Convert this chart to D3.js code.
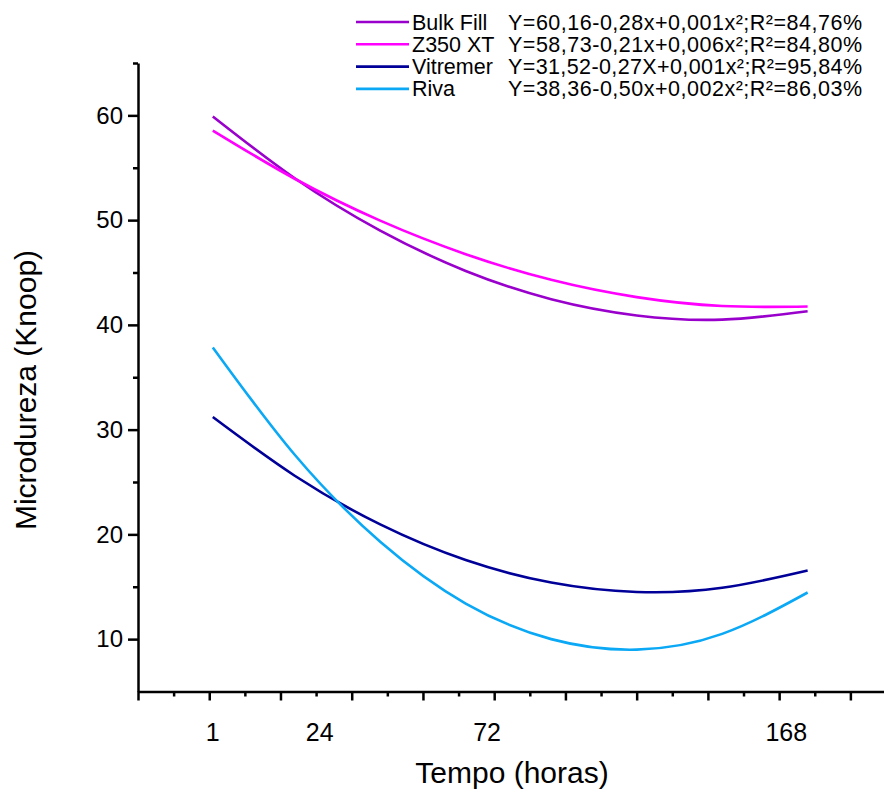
<!DOCTYPE html>
<html>
<head>
<meta charset="utf-8">
<script src="https://cdn.jsdelivr.net/npm/d3@7"></script>
<style>
  body { margin: 0; background: #fff; }
  text { font-family: "Liberation Sans", Arial, sans-serif; fill: #000; }
</style>
</head>
<body>
<div id="chart"></div>
<script>
const hours = [1, 24, 48, 72, 96, 120, 144, 168];

// microhardness
const bulkFill = [59.9, 54.0, 49.0, 45.15, 42.45, 40.9, 40.5, 41.3];
const z350 = [58.55, 53.95, 49.95, 46.75, 44.3, 42.65, 41.8, 41.75];
const vitremer = [31.2, 25.6, 20.95, 17.55, 15.4, 14.5, 14.9, 16.55];
const riva = [37.85, 27.6, 19.3, 13.4, 10.0, 9.0, 10.5, 14.45];

const seriesNames = ["Bulk Fill", "Z350 XT", "Vitremer", "Riva"];
const equations = [
  "Y=60,16-0,28x+0,001x²;R²=84,76%",
  "Y=58,73-0,21x+0,006x²;R²=84,80%",
  "Y=31,52-0,27X+0,001x²;R²=95,84%",
  "Y=38,36-0,50x+0,002x²;R²=86,03%"
];
const colors = ["#9a00cc", "#ff00ff", "#000099", "#0aa8f5"];

// x tick labels and where they sit on the hour axis in the original figure
const xTickLabels = ["1", "24", "72", "168"];
const xTickLabelAt = [1, 31, 78, 162];

const width = 884;
const height = 792;

const svg = d3.select("#chart")
  .append("svg")
  .attr("width", width)
  .attr("height", height);

const x = d3.scaleLinear().domain([-20, 190]).range([138, 886]);
const y = d3.scaleLinear().domain([5, 65]).range([691.5, 63]);

// x axis: line + major/minor ticks, no labels
svg.append("g")
  .attr("transform", `translate(0,${y(5)})`)
  .call(d3.axisBottom(x).tickValues(d3.range(-20, 181, 20)).tickSize(9).tickSizeOuter(0).tickFormat(""))
  .call(g => g.selectAll("line,path").attr("stroke", "#000").attr("stroke-width", 2.5));
svg.append("g")
  .attr("transform", `translate(0,${y(5)})`)
  .call(d3.axisBottom(x).tickValues(d3.range(-10, 181, 20)).tickSize(5).tickFormat(""))
  .call(g => g.select(".domain").remove())
  .call(g => g.selectAll("line").attr("stroke", "#000").attr("stroke-width", 2.5));

svg.append("g")
  .selectAll("text")
  .data(xTickLabels)
  .join("text")
  .attr("x", (d, i) => x(xTickLabelAt[i]))
  .attr("y", 741)
  .attr("text-anchor", "middle")
  .attr("font-size", 25)
  .text(d => d);

// y axis
svg.append("g")
  .attr("transform", `translate(${x(-20)},0)`)
  .call(d3.axisLeft(y).tickValues(d3.range(10, 61, 10)).tickSize(10).tickPadding(5).tickSizeOuter(0))
  .call(g => g.selectAll("line,path").attr("stroke", "#000").attr("stroke-width", 2.5))
  .call(g => g.selectAll("text").attr("font-size", 24).attr("font-family", "Liberation Sans, Arial, sans-serif").attr("fill", "#000"));
svg.append("g")
  .attr("transform", `translate(${x(-20)},0)`)
  .call(d3.axisLeft(y).tickValues(d3.range(15, 66, 10)).tickSize(5).tickFormat(""))
  .call(g => g.select(".domain").remove())
  .call(g => g.selectAll("line").attr("stroke", "#000").attr("stroke-width", 2.5));

// axis titles
svg.append("text")
  .attr("x", 512)
  .attr("y", 783)
  .attr("text-anchor", "middle")
  .attr("font-size", 30)
  .text("Tempo (horas)");

svg.append("text")
  .attr("transform", "translate(36,390) rotate(-90)")
  .attr("text-anchor", "middle")
  .attr("font-size", 30)
  .text("Microdureza (Knoop)");

// curves
const allSeries = [bulkFill, z350, vitremer, riva];
const line = d3.line()
  .x((d, i) => x(hours[i]))
  .y(d => y(d))
  .curve(d3.curveNatural);

svg.append("g")
  .selectAll("path")
  .data(allSeries)
  .join("path")
  .attr("fill", "none")
  .attr("stroke", (d, i) => colors[i])
  .attr("stroke-width", 2.6)
  .attr("d", d => line(d));

// legend
const legend = svg.append("g")
  .selectAll("g")
  .data(seriesNames)
  .join("g")
  .attr("transform", (d, i) => `translate(0,${22 + i * 22.3})`);

legend.append("line")
  .attr("x1", 356).attr("x2", 409)
  .attr("stroke", (d, i) => colors[i])
  .attr("stroke-width", 2.6);

legend.append("text")
  .attr("x", 412)
  .attr("dy", "0.35em")
  .attr("font-size", 21.5)
  .text(d => d);

legend.append("text")
  .attr("x", 508)
  .attr("dy", "0.35em")
  .attr("font-size", 21.5)
  .attr("textLength", 354)
  .attr("lengthAdjust", "spacing")
  .text((d, i) => equations[i]);
</script>
</body>
</html>
